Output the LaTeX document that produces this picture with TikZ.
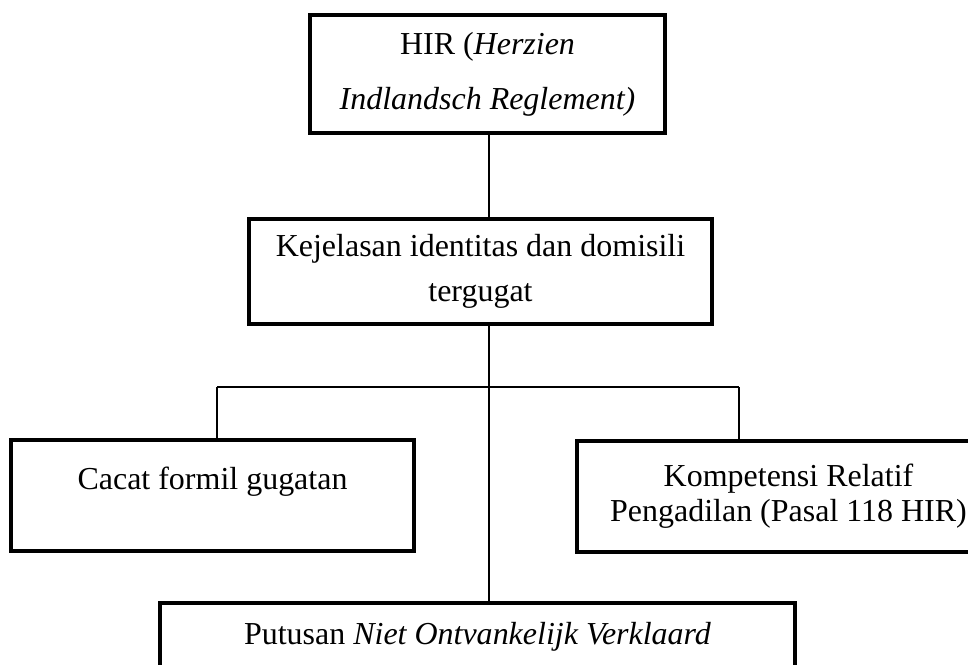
\documentclass[tikz,border=0pt]{standalone}
\usepackage{fontspec}
\setmainfont{Liberation Serif}
\usetikzlibrary{calc}

\begin{document}
\begin{tikzpicture}[x = .02cm, y = -.02cm,
    kotak/.style = {draw, line width = 2.2pt, align = center, inner sep = 0pt,
      font = \fontsize{18.2}{19.9}\selectfont},
    garis/.style = {line width = .7pt}]
  \clip (0,0) rectangle (968,664);
  \node[kotak, minimum width = 7.1cm, minimum height = 2.36cm] (hir) at (487.5,74)
    {HIR (\textit{Herzien}\\[11.4pt]\textit{Indlandsch Reglement)}};
  \node[kotak, minimum width = 9.26cm, minimum height = 2.1cm] (kejelasan) at (480.5,271.5)
    {Kejelasan identitas dan domisili\\[5.7pt]tergugat};
  \node[kotak, minimum width = 8.06cm, minimum height = 2.22cm] (cacat) at (212.5,495.5)
    {Cacat formil gugatan\\ \mbox{}};
  \node[kotak, minimum width = 8.46cm, minimum height = 2.22cm] (kompetensi) at (788.5,496.5)
    {Kompetensi Relatif\\Pengadilan (Pasal 118 HIR)};
  \node[kotak, minimum width = 12.7cm, minimum height = 1.9cm] (putusan) at (477.5,650.5)
    {Putusan \textit{Niet Ontvankelijk Verklaard}\\ \mbox{}};
  \coordinate (cabang) at (489,387);
  \coordinate (kiri) at (217,387);
  \coordinate (kanan) at (739,387);
  \draw[garis] (hir.south -| cabang)--(kejelasan.north -| cabang);
  \draw[garis] (kejelasan.south -| cabang)--(cabang);
  \draw[garis] (cabang)--(putusan.north -| cabang);
  \draw[garis] (kiri)--(kanan);
  \draw[garis] (kiri)--(cacat.north -| kiri);
  \draw[garis] (kanan)--(kompetensi.north -| kanan);
\end{tikzpicture}
\end{document}
